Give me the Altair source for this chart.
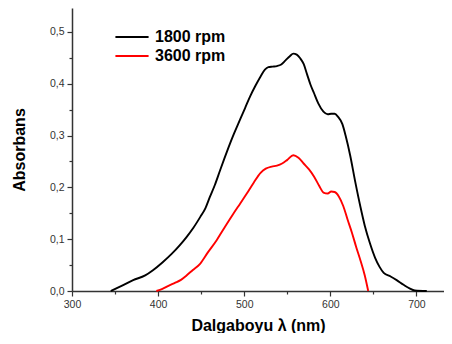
import altair as alt
import pandas as pd

# 1800 rpm spectrum (wavelength nm, absorbance)
wl_1800 = [345, 360, 371, 385, 394, 405, 416, 425, 433, 441, 449, 455, 460, 466, 472, 477, 482, 488,
           495, 501, 507, 513, 519, 524, 528, 533, 538, 543, 548, 553, 557, 561, 565, 569, 573, 577,
           581, 586, 592, 597, 601, 605, 609, 614, 618, 623, 629, 635, 640, 646, 652, 657, 662, 670,
           677, 685, 692, 698, 712]
ab_1800 = [0.0, 0.012, 0.021, 0.03, 0.04, 0.055, 0.072, 0.088, 0.104, 0.122, 0.143, 0.16, 0.181,
           0.205, 0.233, 0.256, 0.278, 0.303, 0.33, 0.353, 0.376, 0.396, 0.414, 0.427, 0.432, 0.433,
           0.434, 0.437, 0.445, 0.453, 0.458, 0.456, 0.449, 0.438, 0.418, 0.398, 0.382, 0.362, 0.346,
           0.341, 0.342, 0.342, 0.336, 0.322, 0.298, 0.262, 0.21, 0.162, 0.126, 0.092, 0.064, 0.047,
           0.035, 0.028, 0.021, 0.012, 0.005, 0.001, 0.0]

# 3600 rpm spectrum
wl_3600 = [398, 405, 412, 420, 426, 433, 440, 449, 458, 468, 477, 487, 495, 503, 511, 519, 525, 532,
           538, 544, 550, 557, 563, 569, 575, 581, 587, 592, 597, 601, 605, 610, 615, 620, 625, 630,
           635, 640, 644]
ab_3600 = [0.0, 0.004, 0.01, 0.016, 0.021, 0.03, 0.04, 0.053, 0.075, 0.098, 0.122, 0.148, 0.168,
           0.188, 0.209, 0.228, 0.236, 0.24, 0.242, 0.246, 0.253, 0.262, 0.257, 0.246, 0.235, 0.221,
           0.203, 0.19, 0.188, 0.192, 0.191, 0.182, 0.164, 0.138, 0.113, 0.085, 0.059, 0.03, 0.0]

series = ["1800 rpm", "3600 rpm"]
colors = ["#000000", "#ff0000"]

x_major = [300, 400, 500, 600, 700]
x_minor = [350, 450, 550, 650]
y_major = [0.0, 0.1, 0.2, 0.3, 0.4, 0.5]
y_minor = [0.05, 0.15, 0.25, 0.35, 0.45]

df = pd.concat([
    pd.DataFrame({"wl": wl_1800, "ab": ab_1800, "s": series[0]}),
    pd.DataFrame({"wl": wl_3600, "ab": ab_3600, "s": series[1]}),
])

FONT = "Liberation Sans"
xscale = alt.Scale(domain=[300, 732], nice=False)
yscale = alt.Scale(domain=[0, 0.546], nice=False)

main = alt.Chart(df).mark_line(strokeWidth=1.9, interpolate="monotone").encode(
    x=alt.X("wl:Q", scale=xscale,
            axis=alt.Axis(values=x_major, title="Dalgaboyu λ (nm)", orient="bottom",
                          grid=False, tickSize=5, labelPadding=3, titlePadding=8, labelFlush=False,
                          labelFont=FONT, labelFontSize=10.5, labelColor="#333",
                          titleFont=FONT, titleFontSize=16, titleFontWeight="bold",
                          domainColor="#333", tickColor="#333", domainWidth=1.5, tickWidth=1.2)),
    y=alt.Y("ab:Q", scale=yscale,
            axis=alt.Axis(values=y_major, title="Absorbans", orient="left",
                          labelExpr="replace(format(datum.value, '.1f'), '.', ',')",
                          grid=False, tickSize=5, labelPadding=3, titlePadding=22, labelFlush=False,
                          labelFont=FONT, labelFontSize=10.5, labelColor="#333",
                          titleFont=FONT, titleFontSize=16, titleFontWeight="bold",
                          domainColor="#333", tickColor="#333", domainWidth=1.5, tickWidth=1.2)),
    color=alt.Color("s:N", scale=alt.Scale(domain=series, range=colors),
                    legend=alt.Legend(title=None, orient="none", legendX=42, legendY=21,
                                      symbolType="stroke", symbolSize=1100, symbolStrokeWidth=2,
                                      clipHeight=16,
                                      labelFont=FONT, labelFontSize=16, labelFontWeight="bold",
                                      labelColor="#000", rowPadding=3, labelOffset=5)),
    detail="s:N",
)

minor = alt.Chart(df).mark_line(strokeOpacity=0).encode(
    x=alt.X("wl:Q", scale=xscale,
            axis=alt.Axis(values=x_minor, labels=False, title=None, orient="bottom",
                          grid=False, tickSize=3, domain=False, tickColor="#333", tickWidth=1.2)),
    y=alt.Y("ab:Q", scale=yscale,
            axis=alt.Axis(values=y_minor, labels=False, title=None, orient="left",
                          grid=False, tickSize=3, domain=False, tickColor="#333", tickWidth=1.2)),
    detail="s:N",
)

chart = alt.layer(main, minor).resolve_axis(x="independent", y="independent").properties(
    width=372, height=283,
    autosize=alt.AutoSizeParams(type="none"),
    padding={"left": 64, "top": 0, "right": 0, "bottom": 42},
).configure_view(stroke=None)

chart.save("out.html", embed_options={"renderer": "svg", "actions": False})
